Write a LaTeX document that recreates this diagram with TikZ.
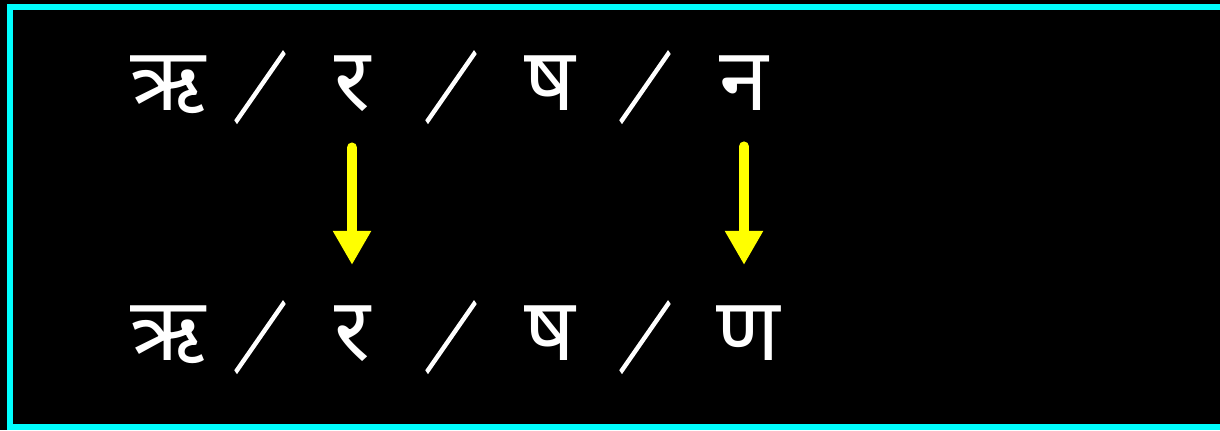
\documentclass[tikz,border=0pt]{standalone}
\usepackage{fontspec}
\newfontfamily\deva[Script=Devanagari]{Noto Sans}
\newfontfamily\cjk[FakeBold=3]{Noto Sans CJK SC}
\usetikzlibrary{arrows.meta, positioning}
\definecolor{framecyan}{RGB}{0,255,255}
\definecolor{markyellow}{RGB}{255,255,0}
\newcommand{\slashmark}{\scalebox{0.66}[0.95]{／}}

\begin{document}
\begin{tikzpicture}[x=0.5pt, y=-0.5pt, >=Stealth]
  \tikzset{
    glyph/.style={text=white, inner sep=0pt, anchor=base, font=\deva\fontsize{44}{50}\selectfont},
    sep/.style={text=white, inner sep=0pt, anchor=base, font=\cjk\fontsize{40}{46}\selectfont},
    yarrow/.style={draw=markyellow, line width=5pt, line cap=round, -{Triangle[width=18pt, length=17pt]}}
  }
  % Background and frame
  \fill[black] (0,0) rectangle (1220,430);
  \useasboundingbox (0,0) rectangle (1220,430);
  \draw[framecyan, line width=3pt] (1240,7) -- (10,7) -- (10,427) -- (1240,427);

  % Top row
  \node[glyph] (T0) at (168,110) {ऋ};
  \node[sep] (T01) at (260,116) {\slashmark};
  \node[glyph] (T1) at (352,110) {र};
  \node[sep] (T12) at (451,116) {\slashmark};
  \node[glyph] (T2) at (550,110) {ष};
  \node[sep] (T23) at (645,116) {\slashmark};
  \node[glyph] (T3) at (744,110) {न};

  % Bottom row
  \node[glyph] (B0) at (168,360) {ऋ};
  \node[sep] (B01) at (260,366) {\slashmark};
  \node[glyph] (B1) at (352,360) {र};
  \node[sep] (B12) at (451,366) {\slashmark};
  \node[glyph] (B2) at (550,360) {ष};
  \node[sep] (B23) at (645,366) {\slashmark};
  \node[glyph] (B3) at (748,360) {ण};

  % Changes
  \draw[yarrow, shorten <=18pt, shorten >=20pt] (T1.south) -- (B1.north);
  \draw[yarrow, shorten <=18pt, shorten >=20pt] (T3.south) -- (T3.south |- B3.north);
\end{tikzpicture}
\end{document}
